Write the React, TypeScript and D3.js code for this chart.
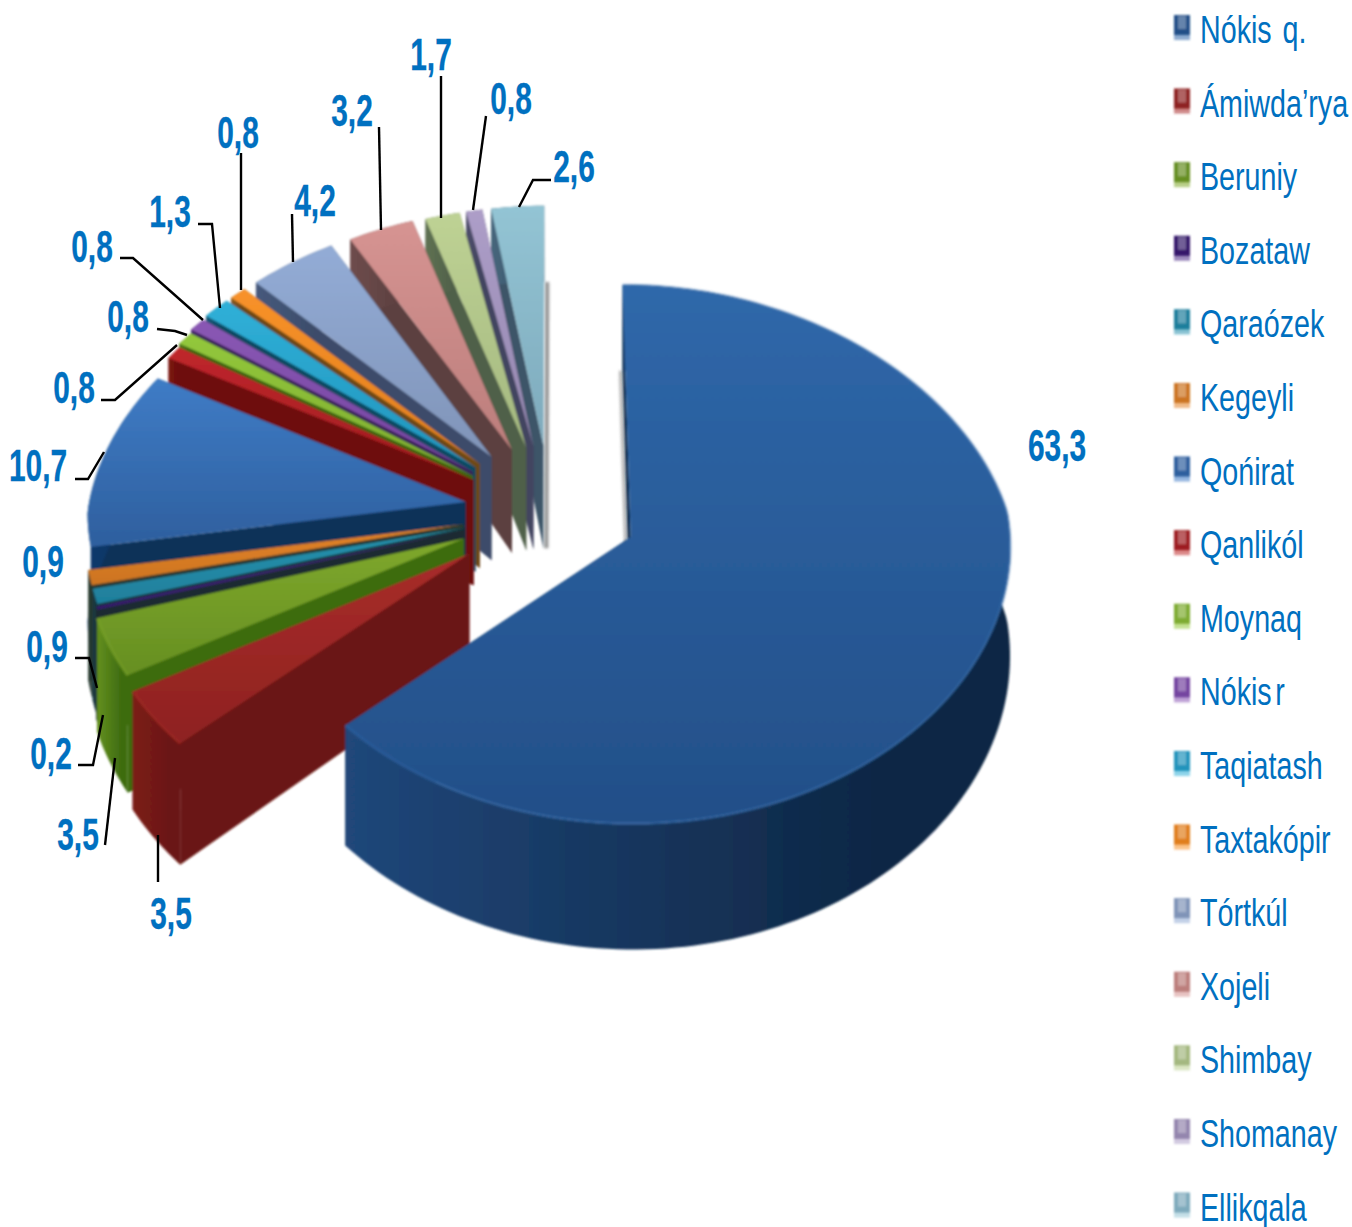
import React from "react";
import * as d3 from "d3";

const categories = ["Nókis q.","Ámiwda’rya","Beruniy","Bozataw","Qaraózek","Kegeyli","Qońirat","Qanlikól","Moynaq","Nókis r","Taqiatash","Taxtakópir","Tórtkúl","Xojeli","Shimbay","Shomanay","Ellikqala"];
const shares = [63.3,3.5,3.5,0.2,0.9,0.9,10.7,0.8,0.8,0.8,1.3,0.8,4.2,3.2,1.7,0.8,2.6];
const shareLabels = ["63,3","3,5","3,5","0,2","0,9","0,9","10,7","0,8","0,8","0,8","1,3","0,8","4,2","3,2","1,7","0,8","2,6"];
const explosions = [0.23,0.265,0.25,0.24,0.235,0.235,0.23,0.24,0.25,0.26,0.265,0.265,0.265,0.26,0.255,0.255,0.255];
const topLight = ["#2f68aa","#a82c2a","#7fa82c","#4a2a86","#2692ae","#e4842a","#3f7cc6","#c0262c","#93c83c","#8a58b4","#30b0d8","#f8922a","#93acd6","#d69492","#bed294","#ad9ec8","#93c4d4"];
const topDark = ["#234f88","#8e2220","#668f22","#35196a","#1f7f9c","#cc7420","#2e5f9e","#9e1c20","#7eac30","#7444a0","#2094bc","#e07e1c","#8094b8","#bc7e7c","#a4b880","#9486ae","#7eaabc"];
const wallA = ["#20477a","#7c1c16","#64901f","#22303a","#1c3c44","#2c4038","#0d3a6e","#7c1410","#4f7a18","#4a2a70","#145878","#8a5a20","#46597c","#6e4c4c","#5f7252","#50506c","#46667c"];
const wallB = ["#0e2745","#6a1712","#3e6c10","#1c2a30","#18343a","#26382e","#0a3058","#6e100c","#3c6410","#3a2058","#0e4862","#6e4818","#3c4c6a","#5c4040","#50604a","#424460","#3c5468"];
const legendRows = d3.range(17);
const labelLayout = [
  {x:1057,y:461,line:[]},
  {x:171,y:929,line:[[158,835],[158,882]]},
  {x:78,y:850,line:[[115,758],[105,845]]},
  {x:51,y:769,line:[[103,715],[93,765],[78,765]]},
  {x:47,y:662,line:[[97,688],[89,658],[75,658]]},
  {x:43,y:577,line:[]},
  {x:38,y:481,line:[[104,452],[88,479],[75,479]]},
  {x:74,y:403,line:[[177,345],[115,400],[101,400]]},
  {x:128,y:332,line:[[187,335],[175,331],[157,329]]},
  {x:92,y:262,line:[[203,320],[133,258],[120,258]]},
  {x:170,y:227,line:[[220,308],[212,224],[198,224]]},
  {x:238,y:148,line:[[241,290],[241,153]]},
  {x:315,y:216,line:[[293,262],[292,214]]},
  {x:352,y:126,line:[[381,230],[379,127]]},
  {x:431,y:70,line:[[441,218],[441,76]]},
  {x:511,y:114,line:[[473,210],[486,116]]},
  {x:574,y:182,line:[[519,207],[533,180],[551,180]]},
];

const W = 1352, H = 1227;
const sx = d3.scaleLinear().domain([-1, 1]).range([173, 929]);
const xPersp = d3.scaleLinear().domain([-1.3, 0, 1.3]).range([0.857, 1, 1.04]);
const depth = d3.scaleLinear().domain([-1.3, -0.3, 1.1]).range([75, 102, 126]);
const yProj = (v: number) => 512 + 266 * v + 17.4 * v * v;
const project = (u: number, v: number): [number, number] => [
  sx(0) + (sx(u) - sx(0)) * xPersp(v),
  yProj(v),
];
const linePath = d3.line();

const arcs = d3.pie<number>().sort(null)(shares);

function buildSlice(i: number) {
  const a = arcs[i];
  const m = (a.startAngle + a.endAngle) / 2;
  const e = explosions[i];
  const ou = e * Math.sin(m), ov = -e * Math.cos(m);
  const n = Math.max(2, Math.ceil((a.endAngle - a.startAngle) * 40));
  const thetas = d3.range(n + 1).map((k) => a.startAngle + ((a.endAngle - a.startAngle) * k) / n);
  const world = thetas.map((t) => [ou + Math.sin(t), ov - Math.cos(t)]);
  const rim = world.map(([u, v]) => project(u, v));
  const rimLow = world.map(([u, v]) => {
    const p = project(u, v);
    return [p[0], p[1] + depth(v)] as [number, number];
  });
  const apex = project(ou, ov);
  const apexLow: [number, number] = [apex[0], apex[1] + depth(ov)];
  return {
    top: linePath([apex, ...rim])! + "Z",
    outer: linePath([...rim, ...[...rimLow].reverse()])! + "Z",
    startWall: linePath([apex, rim[0], rimLow[0], apexLow])! + "Z",
    endWall: linePath([apex, rim[n], rimLow[n], apexLow])! + "Z",
    rimPath: linePath(rim)!,
    endShade: linePath([rimLow[n], apexLow])!,
    startShade: linePath([rimLow[0], apexLow])!,
  };
}

const order = [...d3.range(1, shares.length).reverse(), 0];

export default function App() {
  const slices = shares.map((_, i) => buildSlice(i));
  return (
    <svg width={W} height={H} viewBox={`0 0 ${W} ${H}`} style={{ position: "absolute", left: 0, top: 0, display: "block", background: "#fff" }}>
      <defs>
        <filter id="soft" x="-5%" y="-5%" width="110%" height="110%">
          <feGaussianBlur stdDeviation="0.9" />
        </filter>
        <filter id="shade" filterUnits="userSpaceOnUse" x="0" y="0" width={W} height={H}>
          <feGaussianBlur stdDeviation="1.6" />
        </filter>
        <filter id="legendSoft" filterUnits="userSpaceOnUse" x="1160" y="0" width="40" height={H}>
          <feGaussianBlur stdDeviation="0.8" />
        </filter>
        {shares.map((_, i) => (
          <React.Fragment key={i}>
            <linearGradient id={`t${i}`} x1="0" y1="0" x2="0" y2="1">
              <stop offset="0" stopColor={topLight[i]} />
              <stop offset="1" stopColor={topDark[i]} />
            </linearGradient>
            <linearGradient id={`w${i}`} x1="0" y1="0" x2="1" y2="0">
              <stop offset="0" stopColor={wallA[i]} />
              <stop offset="0.8" stopColor={wallB[i]} />
            </linearGradient>
          </React.Fragment>
        ))}
      </defs>
      <path d={slices[16].endShade} stroke="#777" strokeWidth={4} fill="none" opacity={0.8} transform="translate(3,0)" filter="url(#shade)" />
      <path d={slices[0].startShade} stroke="#777" strokeWidth={3} fill="none" opacity={0.6} transform="translate(-2,0)" filter="url(#shade)" />
      <g filter="url(#soft)">
        {order.map((i) => {
          const s = slices[i];
          return (
            <g key={i}>
              <path d={s.endWall} fill={wallB[i]} />
              <path d={s.startWall} fill={wallB[i]} />
              <path d={s.outer} fill={`url(#w${i})`} />
              <path d={s.top} fill={`url(#t${i})`} />
              {i < 3 ? <path d={s.rimPath} fill="none" stroke={topLight[i]} strokeOpacity={0.5} strokeWidth={3} /> : null}
            </g>
          );
        })}
      </g>
      {labelLayout.map((l, i) =>
        l.line.length ? (
          <path key={i} d={linePath(l.line as [number, number][])!} fill="none" stroke="#000" strokeWidth={2.4} />
        ) : null
      )}
      {shareLabels.map((t, i) => (
        <text key={i} transform={`translate(${labelLayout[i].x},${labelLayout[i].y}) scale(0.68,1)`} textAnchor="middle" fontFamily="'Liberation Sans', Arial, sans-serif" fontWeight={700} fontSize={44} fill="#0070C0" stroke="#0070C0" strokeWidth={0.3}>
          {t}
        </text>
      ))}
      {categories.map((c, i) => {
        const cy = 31 + legendRows[i] * 73.6;
        return (
          <g key={c}>
            <g filter="url(#legendSoft)">
              <rect x={1174} y={cy - 16} width={16} height={25} fill={topLight[i]} opacity={0.55} />
              <rect x={1174} y={cy - 16} width={16} height={20} fill={topDark[i]} />
              <rect x={1178} y={cy - 15} width={8} height={13} fill="#ffffff" opacity={0.3} />
            </g>
            <text transform={`translate(1200,${cy + 12}) scale(0.735,1)`} fontFamily="'Liberation Sans', Arial, sans-serif" fontSize={39} fill="#0070C0" wordSpacing={c === "Nókis q." ? 4 : c === "Nókis r" ? -6 : 0}>
              {c}
            </text>
          </g>
        );
      })}
    </svg>
  );
}
